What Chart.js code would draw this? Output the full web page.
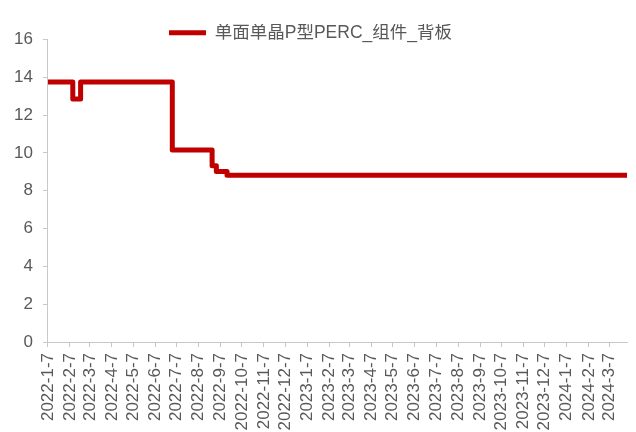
<!DOCTYPE html>
<html>
<head>
<meta charset="utf-8">
<script src="https://cdn.jsdelivr.net/npm/chart.js@4/dist/chart.umd.min.js"></script>
<style>
  html, body { margin: 0; padding: 0; background: #fff; }
  canvas { display: block; }
</style>
</head>
<body>
<canvas id="priceChart" width="636" height="432"></canvas>
<script>
// dates where the price changes, and the price from that date on
const changeDates = ['2022-1-7', '2022-2-11', '2022-2-22', '2022-7-1', '2022-8-26', '2022-9-1', '2022-9-16', '2024-4-1'];
const prices = [13.75, 12.85, 13.75, 10.15, 9.32, 9.02, 8.82, 8.82];

// month ticks on the x axis
const tickLabels = [
    '2022-1-7', '2022-2-7', '2022-3-7', '2022-4-7', '2022-5-7', '2022-6-7', '2022-7-7',
    '2022-8-7', '2022-9-7', '2022-10-7', '2022-11-7', '2022-12-7', '2023-1-7', '2023-2-7',
    '2023-3-7', '2023-4-7', '2023-5-7', '2023-6-7', '2023-7-7', '2023-8-7', '2023-9-7',
    '2023-10-7', '2023-11-7', '2023-12-7', '2024-1-7', '2024-2-7', '2024-3-7'
];
const yTicks = [0, 2, 4, 6, 8, 10, 12, 14, 16];
const seriesName = '单面单晶P型PERC_组件_背板';

// days since the first date
function dayNum(s) {
    const [y, m, d] = s.split('-').map(Number);
    return (Date.UTC(y, m - 1, d) - Date.UTC(2022, 0, 7)) / 86400000;
}

const points = changeDates.map((d, i) => ({ x: dayNum(d), y: prices[i] }));
const tickDays = tickLabels.map(dayNum);
const axisColor = '#C8C8C8';
const textColor = '#595959';

// move the legend down so it sits just above the plot
const legendShift = {
    id: 'legendShift',
    afterLayout(chart) {
        const lg = chart.legend;
        lg.top += 12;
        lg.bottom += 12;
        lg.left -= 7;
        lg.right -= 7;
    }
};

new Chart(document.getElementById('priceChart'), {
    type: 'line',
    data: {
        datasets: [{
            label: seriesName,
            data: points,
            borderColor: '#C00000',
            backgroundColor: '#C00000',
            borderWidth: 5,
            borderJoinStyle: 'round',
            stepped: true,
            pointRadius: 0,
            fill: false
        }]
    },
    options: {
        responsive: false,
        animation: false,
        layout: { padding: { top: 12, left: 4, right: 5, bottom: 0 } },
        plugins: {
            legend: {
                position: 'top',
                labels: {
                    boxWidth: 37,
                    boxHeight: 5,
                    padding: 0,
                    color: textColor,
                    font: { family: 'Liberation Sans, Noto Sans CJK SC', size: 17.5 },
                    generateLabels: chart => Chart.defaults.plugins.legend.labels.generateLabels(chart)
                        .map(item => ({ ...item, lineWidth: 0 }))
                }
            },
            tooltip: { enabled: false }
        },
        scales: {
            x: {
                type: 'linear',
                min: 0,
                max: dayNum(changeDates[changeDates.length - 1]),
                afterBuildTicks: axis => {
                    axis.ticks = tickDays.map(v => ({ value: v }));
                },
                afterFit: axis => {
                    axis.height = 90;
                },
                grid: { drawOnChartArea: false, tickLength: 5, color: axisColor },
                border: { color: axisColor },
                ticks: {
                    autoSkip: false,
                    minRotation: 90,
                    maxRotation: 90,
                    padding: 6,
                    color: textColor,
                    font: { family: 'Liberation Sans', size: 17 },
                    callback: (v, i) => tickLabels[i]
                }
            },
            y: {
                min: yTicks[0],
                max: yTicks[yTicks.length - 1],
                afterBuildTicks: axis => {
                    axis.ticks = yTicks.map(v => ({ value: v }));
                },
                grid: { drawOnChartArea: false, tickLength: 5, color: axisColor },
                border: { color: axisColor },
                ticks: {
                    padding: 10,
                    color: textColor,
                    font: { family: 'Liberation Sans', size: 17 }
                }
            }
        }
    },
    plugins: [legendShift]
});
</script>
</body>
</html>
